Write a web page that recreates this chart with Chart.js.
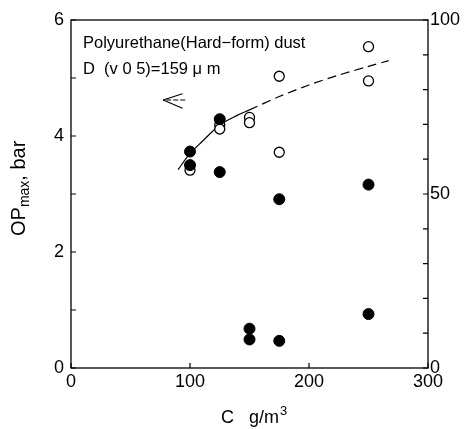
<!DOCTYPE html>
<html>
<head>
<meta charset="utf-8">
<script src="https://cdn.jsdelivr.net/npm/chart.js@4/dist/chart.umd.min.js"></script>
<style>
  html, body { margin: 0; padding: 0; background: #fff; }
  #wrap { width: 464px; height: 429px; }
</style>
</head>
<body>
<div id="wrap"><canvas id="c" width="464" height="429"></canvas></div>
<script>
// ---- data ----
const openC  = [100, 125, 125, 150, 150, 175, 175, 250, 250];
const openOP = [3.41, 4.19, 4.12, 4.32, 4.23, 5.03, 3.72, 5.54, 4.95];   // bar (left axis)

const filledC   = [100, 100, 125, 125, 150, 150, 175, 175, 250, 250];
const filledVal = [62.2, 58.3, 71.5, 56.3, 11.3, 8.2, 48.5, 7.8, 52.7, 15.5]; // right axis (0-100)

const curveC  = [90, 100, 110, 125, 140, 150, 175, 200, 225, 250, 267];
const curveOP = [3.42, 3.70, 3.90, 4.19, 4.36, 4.45, 4.68, 4.88, 5.05, 5.20, 5.30];

const xTicks = [0, 100, 200, 300];
const leftLabels = [0, 2, 4, 6];
const rightLabels = [0, 50, 100];

const annotLine1 = 'Polyurethane(Hard\u2212form) dust';
const annotLine2 = 'D\u00a0\u00a0(v 0 5)=159 \u03bc m';

const FONT = '"Liberation Sans", Arial, Helvetica, sans-serif';

const pts = (xs, ys) => xs.map((x, i) => ({x, y: ys[i]}));

const decor = {
  id: 'decor',
  afterDraw(chart) {
    const {ctx, chartArea: a, scales} = chart;
    const x = scales.x, y = scales.y, y2 = scales.y2;
    ctx.save();
    ctx.strokeStyle = '#000';
    ctx.fillStyle = '#000';
    ctx.lineWidth = 1.3;
    // frame
    ctx.strokeRect(a.left, a.top, a.right - a.left, a.bottom - a.top);
    // inward ticks
    ctx.lineWidth = 1.2;
    ctx.beginPath();
    y.ticks.forEach(t => { const p = y.getPixelForValue(t.value); ctx.moveTo(a.left, p); ctx.lineTo(a.left + 5, p); });
    y2.ticks.forEach(t => { const p = y2.getPixelForValue(t.value); ctx.moveTo(a.right, p); ctx.lineTo(a.right - 5, p); });
    x.ticks.forEach(t => { const p = x.getPixelForValue(t.value); ctx.moveTo(p, a.bottom); ctx.lineTo(p, a.bottom - 5); });
    ctx.stroke();

    // annotation text
    ctx.font = '16.5px ' + FONT;
    ctx.textBaseline = 'middle';
    ctx.textAlign = 'left';
    ctx.fillText(annotLine1, 83, 43);
    ctx.fillText(annotLine2, 83, 69);

    // arrow (pointing left, toward left axis)
    const tipX = x.getPixelForValue(77.4), tailX = x.getPixelForValue(96);
    const ay = y.getPixelForValue(4.62);
    const barbX = x.getPixelForValue(93.7);
    ctx.lineWidth = 1.1;
    ctx.setLineDash([5, 2]);
    ctx.beginPath();
    ctx.moveTo(tailX, ay); ctx.lineTo(tipX, ay);
    ctx.stroke();
    ctx.setLineDash([]);
    ctx.beginPath();
    ctx.moveTo(tipX, ay); ctx.lineTo(barbX, y.getPixelForValue(4.73));
    ctx.moveTo(tipX, ay); ctx.lineTo(barbX, y.getPixelForValue(4.48));
    ctx.stroke();

    // x title: C  g/m3
    ctx.textBaseline = 'alphabetic';
    ctx.font = '18px ' + FONT;
    ctx.fillText('C', 221, 423);
    ctx.fillText('g/m', 249, 423);
    const w = ctx.measureText('g/m').width;
    ctx.font = '13px ' + FONT;
    ctx.fillText('3', 249 + w + 1, 415);

    // y title: OPmax, bar (rotated)
    ctx.translate(25, 236);
    ctx.rotate(-Math.PI / 2);
    ctx.font = '20px ' + FONT;
    ctx.fillText('OP', 0, 0);
    let cx = ctx.measureText('OP').width;
    ctx.font = '14px ' + FONT;
    ctx.fillText('max', cx, 4);
    cx += ctx.measureText('max').width;
    ctx.font = '20px ' + FONT;
    ctx.fillText(', bar', cx, 0);
    ctx.restore();
  }
};

new Chart(document.getElementById('c'), {
  type: 'scatter',
  data: {
    datasets: [
      {
        label: 'filled',
        data: pts(filledC, filledVal),
        yAxisID: 'y2',
        pointRadius: 5.5,
        pointBackgroundColor: '#000',
        pointBorderColor: '#000',
        pointBorderWidth: 1
      },
      {
        label: 'open',
        data: pts(openC, openOP),
        yAxisID: 'y',
        pointRadius: 5,
        pointBackgroundColor: '#fff',
        pointBorderColor: '#000',
        pointBorderWidth: 1.3
      },
      {
        label: 'curve',
        data: pts(curveC, curveOP),
        yAxisID: 'y',
        showLine: true,
        pointRadius: 0,
        borderColor: '#000',
        borderWidth: 1.2,
        tension: 0.3,
        segment: {
          borderDash: c => c.p0.parsed.x >= 150 ? [9, 5] : undefined
        }
      }
    ]
  },
  options: {
    responsive: false,
    animation: false,
    events: [],
    layout: { padding: { top: 20, left: 0, right: 0, bottom: 0 } },
    plugins: { legend: { display: false }, tooltip: { enabled: false } },
    scales: {
      x: {
        type: 'linear', min: 0, max: 300,
        afterBuildTicks: s => { s.ticks = xTicks.map(v => ({value: v})); },
        ticks: { font: { size: 18, family: FONT }, color: '#000', padding: 3, maxRotation: 0 },
        grid: { drawOnChartArea: false, drawTicks: false },
        border: { display: false },
        afterFit: s => { s.height = 61; }
      },
      y: {
        type: 'linear', position: 'left', min: 0, max: 6,
        ticks: {
          stepSize: 1,
          font: { size: 18, family: FONT }, color: '#000', padding: 7,
          callback: v => leftLabels.includes(v) ? String(v) : ''
        },
        grid: { drawOnChartArea: false, drawTicks: false },
        border: { display: false },
        afterFit: s => { s.width = 71; }
      },
      y2: {
        type: 'linear', position: 'right', min: 0, max: 100,
        ticks: {
          stepSize: 10,
          font: { size: 18, family: FONT }, color: '#000', padding: 2,
          callback: v => rightLabels.includes(v) ? String(v) : ''
        },
        grid: { drawOnChartArea: false, drawTicks: false },
        border: { display: false },
        afterFit: s => { s.width = 36; }
      }
    }
  },
  plugins: [decor]
});
</script>
</body>
</html>
